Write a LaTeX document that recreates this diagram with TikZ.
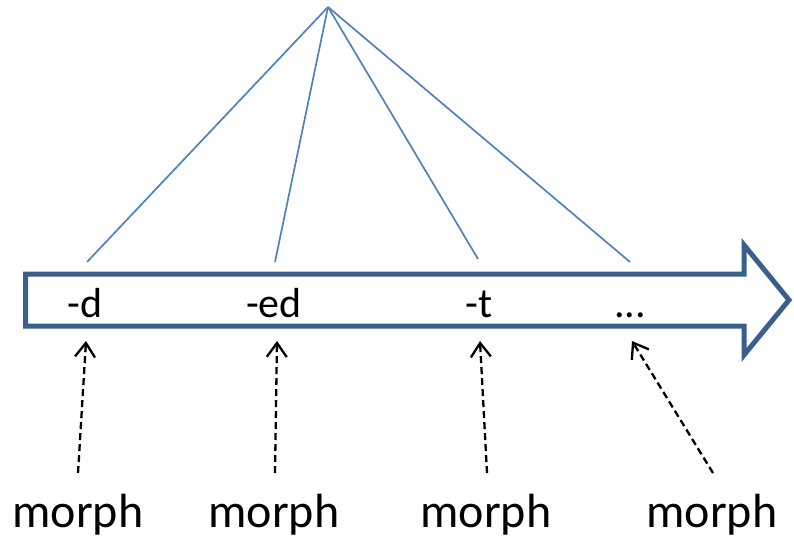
\documentclass[tikz,border=0pt]{standalone}
\usepackage{fontspec}
\setmainfont{Carlito}
\usetikzlibrary{arrows.meta}
\definecolor{arrowblue}{HTML}{3A5F8C}
\definecolor{lineblue}{HTML}{4F81BD}
\tikzset{
  bigarrow/.style={draw=arrowblue, line width=5pt, fill=white, line join=miter, miter limit=10},
  treeline/.style={draw=lineblue, line width=1.7pt},
  suffix/.style={anchor=base, inner sep=0pt, font=\fontsize{42}{50}\selectfont},
  morphlab/.style={anchor=base, inner sep=0pt, font=\fontsize{48}{56}\selectfont},
  morpharrow/.style={draw=black, line width=2.3pt, dash pattern=on 7pt off 4pt,
    -{Straight Barb[length=14pt, width=20pt, line width=2.3pt]}}
}
\begin{document}
\begin{tikzpicture}[x=1pt, y=-1pt]
\useasboundingbox (0,0) rectangle (794,540);
% big arrow
\path[bigarrow] (25.5,274) -- (744,274) -- (744,245) -- (789,300) -- (744,355) -- (744,326) -- (25.5,326) -- cycle;
% apex and tree lines
\coordinate (apex) at (328,7);
\coordinate (t1) at (87,262);
\coordinate (t2) at (275,262);
\coordinate (t3) at (478,259);
\coordinate (t4) at (630,262);
\draw[treeline] (apex) -- (t1);
\draw[treeline] (apex) -- (t2);
\draw[treeline] (apex) -- (t3);
\draw[treeline] (apex) -- (t4);
% suffix labels
\node[suffix] (s1) at (85,317) {-d};
\node[suffix] (s2) at (274,317) {-ed};
\node[suffix] (s3) at (479,317) {-t};
\node[suffix] (s4) at (630,317) {...};
% morph labels
\node[morphlab] (m1) at (78,527) {morph};
\node[morphlab] (m2) at (274,527) {morph};
\node[morphlab] (m3) at (486,527) {morph};
\node[morphlab] (m4) at (712,527) {morph};
% arrow endpoints
\coordinate (b1) at (78,473);
\coordinate (b2) at (275,473);
\coordinate (b3) at (487,473);
\coordinate (b4) at (713,473);
\coordinate (e1) at (86,341);
\coordinate (e2) at (277,341);
\coordinate (e3) at (480,341);
\coordinate (e4) at (632,341);
\draw[morpharrow] (b1) -- (e1);
\draw[morpharrow] (b2) -- (e2);
\draw[morpharrow] (b3) -- (e3);
\draw[morpharrow] (b4) -- (e4);
\end{tikzpicture}
\end{document}
